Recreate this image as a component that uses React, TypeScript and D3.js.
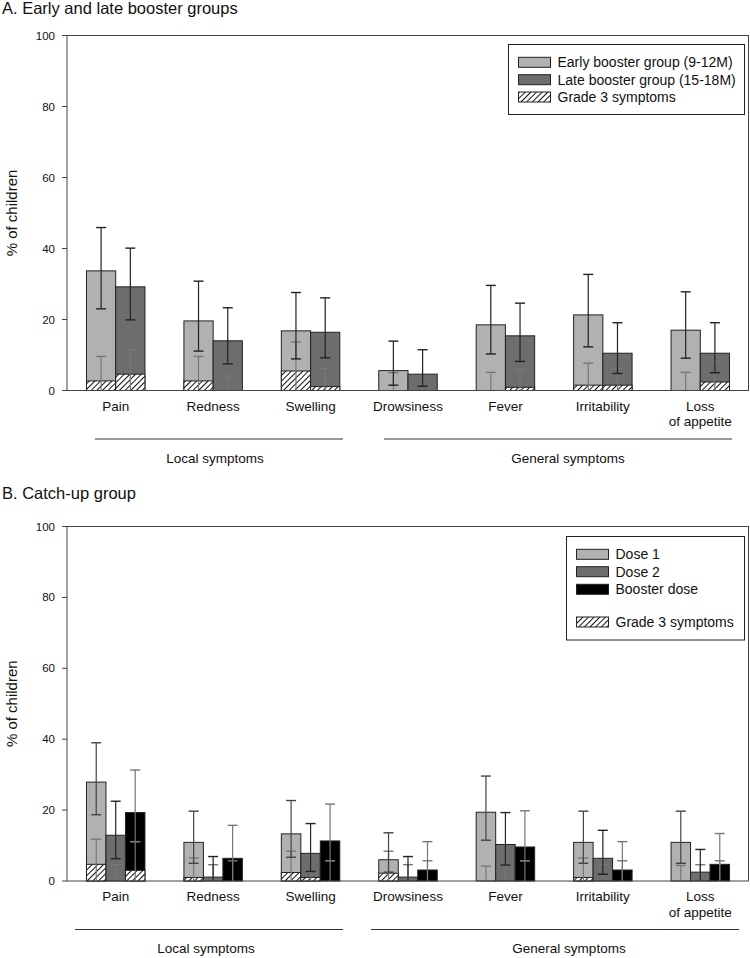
import { scaleLinear, scaleBand } from "d3";
import React from "react";

const categories = ["Pain", "Redness", "Swelling", "Drowsiness", "Fever", "Irritability", "Loss of appetite"];
const yTicks = [0, 20, 40, 60, 80, 100];

// Panel A
const earlyVal = [33.7, 19.6, 16.8, 5.6, 18.5, 21.3, 17.0];
const earlyLo = [23.0, 11.1, 8.9, 1.5, 10.3, 12.3, 9.1];
const earlyHi = [45.9, 30.8, 27.6, 13.9, 29.6, 32.7, 27.8];
const earlyG3 = [2.7, 2.7, 5.5, 0, 0, 1.5, 0];
const earlyG3Hi = [9.6, 9.6, 13.7, 5.0, 5.1, 7.7, 5.1];
const lateVal = [29.2, 14.0, 16.4, 4.6, 15.4, 10.5, 10.5];
const lateLo = [19.9, 7.5, 9.2, 1.2, 8.2, 4.8, 5.0];
const lateHi = [40.1, 23.3, 26.1, 11.5, 24.6, 19.1, 19.1];
const lateG3 = [4.6, 0, 1.1, 0, 0.9, 1.5, 2.4];
const lateG3Hi = [11.5, 4.1, 6.2, 4.1, 6.2, 6.2, 8.1];

// Panel B
const dose1Val = [27.9, 10.9, 13.3, 6.0, 19.4, 10.9, 10.9];
const dose1Lo = [18.7, 5.0, 6.7, 2.5, 11.5, 5.0, 5.0];
const dose1Hi = [39.0, 19.7, 22.7, 13.6, 29.6, 19.7, 19.7];
const dose1G3 = [4.7, 1.0, 2.4, 2.2, 0, 1.0, 0];
const dose1G3Hi = [11.8, 6.5, 8.4, 8.4, 4.2, 6.5, 4.4];
const dose2Val = [12.9, 1.1, 7.8, 1.1, 10.3, 6.4, 2.5];
const dose2Lo = [6.3, 0, 2.7, 0, 4.5, 1.9, 0];
const dose2Hi = [22.5, 6.9, 16.2, 6.9, 19.3, 14.3, 8.9];
const dose2G3 = [0, 0, 1.0, 0, 0, 0, 0];
const dose2G3Hi = [4.6, 4.6, 7.1, 4.6, 4.5, 4.6, 4.6];
const boosterVal = [19.3, 6.4, 11.3, 3.1, 9.6, 3.1, 4.7];
const boosterLo = [11.1, 0, 5.7, 0, 5.7, 0, 0];
const boosterHi = [31.3, 15.7, 21.7, 11.1, 19.8, 11.1, 13.4];
const boosterG3 = [3.0, 0, 0, 0, 0, 0, 0];
const boosterG3Hi = [11.1, 5.7, 5.7, 5.7, 5.7, 5.7, 5.7];

const seriesA = [
  { name: "Early booster group (9-12M)", fill: "#b1b1b1", err: "#222", val: earlyVal, lo: earlyLo, hi: earlyHi, g3: earlyG3, g3hi: earlyG3Hi },
  { name: "Late booster group (15-18M)", fill: "#6d6d6d", err: "#222", val: lateVal, lo: lateLo, hi: lateHi, g3: lateG3, g3hi: lateG3Hi },
];
const seriesB = [
  { name: "Dose 1", fill: "#b1b1b1", err: "#444", val: dose1Val, lo: dose1Lo, hi: dose1Hi, g3: dose1G3, g3hi: dose1G3Hi },
  { name: "Dose 2", fill: "#6d6d6d", err: "#222", val: dose2Val, lo: dose2Lo, hi: dose2Hi, g3: dose2G3, g3hi: dose2G3Hi },
  { name: "Booster dose", fill: "#000", err: "#777", val: boosterVal, lo: boosterLo, hi: boosterHi, g3: boosterG3, g3hi: boosterG3Hi },
];

const sans = "'Liberation Sans', Arial, sans-serif";
const left = 67;
const right = 749;

const Panel = ({ series, top, bottom, title, titleY, groups, legend }: any) => {
  const x = scaleBand().domain(categories).range([left, right]).paddingInner(0.4).paddingOuter(0.2);
  const inner = scaleBand().domain(series.map((s: any) => s.name)).range([0, x.bandwidth()]);
  const y = scaleLinear().domain([0, 100]).range([bottom, top]);
  const cap = 5;

  return (
    <g>
      <text x={2} y={titleY} fontFamily={sans} fontSize={16.5} fill="#111">{title}</text>
      <text transform={`translate(17,${(top + bottom) / 2}) rotate(-90)`} textAnchor="middle" fontFamily={sans} fontSize={15} fill="#111">% of children</text>
      {yTicks.map((t) => (
        <g key={t}>
          <line x1={left - 5} x2={left} y1={y(t)} y2={y(t)} stroke="#444" />
          <text x={55} y={y(t) + 4} textAnchor="end" fontFamily={sans} fontSize={11.5} fill="#111">{t}</text>
        </g>
      ))}
      {series.map((s: any) =>
        categories.map((c, i) => {
          const bx = (x(c) as number) + (inner(s.name) as number);
          const bw = inner.bandwidth();
          const cx = bx + bw / 2;
          return (
            <g key={s.name + c}>
              <rect x={bx} y={y(s.val[i])} width={bw} height={y(0) - y(s.val[i])} fill={s.fill} stroke="#222" strokeWidth={1} />
              {s.g3[i] > 0 && (
                <rect x={bx} y={y(s.g3[i])} width={bw} height={y(0) - y(s.g3[i])} fill="url(#hatch)" stroke="#222" strokeWidth={1} />
              )}
              <line x1={cx} x2={cx} y1={y(0)} y2={y(s.g3hi[i])} stroke="#777" strokeWidth={1.2} />
              <line x1={cx - cap} x2={cx + cap} y1={y(s.g3hi[i])} y2={y(s.g3hi[i])} stroke="#777" strokeWidth={1.4} />
              <line x1={cx} x2={cx} y1={y(s.lo[i])} y2={y(s.hi[i])} stroke={s.err} strokeWidth={1.2} />
              <line x1={cx - cap} x2={cx + cap} y1={y(s.hi[i])} y2={y(s.hi[i])} stroke={s.err} strokeWidth={1.4} />
              {s.lo[i] > 0 && (
                <line x1={cx - cap} x2={cx + cap} y1={y(s.lo[i])} y2={y(s.lo[i])} stroke={s.err} strokeWidth={1.4} />
              )}
            </g>
          );
        })
      )}
      <rect x={left} y={top} width={right - left - 0.5} height={bottom - top} fill="none" stroke="#444" />
      {categories.map((c) => {
        const cx = (x(c) as number) + x.bandwidth() / 2;
        const lines = c === "Loss of appetite" ? ["Loss", "of appetite"] : [c];
        return (
          <text key={c} textAnchor="middle" fontFamily={sans} fontSize={13.5} fill="#111">
            {lines.map((l, k) => (
              <tspan key={k} x={cx} y={bottom + 20 + k * 15.5}>{l}</tspan>
            ))}
          </text>
        );
      })}
      {groups.map((g: any) => (
        <g key={g.label}>
          <line x1={g.x1} x2={g.x2} y1={bottom + 48.5} y2={bottom + 48.5} stroke="#333" />
          <text x={g.lx} y={bottom + 72} textAnchor="middle" fontFamily={sans} fontSize={13.5} fill="#111">{g.label}</text>
        </g>
      ))}
      <rect x={legend.x} y={legend.y} width={744.5 - legend.x} height={legend.h} fill="#fff" stroke="#222" />
      {legend.rows.map((r: any) => (
        <g key={r.label}>
          <rect x={legend.x + 10} y={r.cy - 5} width={32} height={10} fill={r.fill} stroke="#222" />
          <text x={legend.x + 49} y={r.cy + 5} fontFamily={sans} fontSize={14} fill="#111">{r.label}</text>
        </g>
      ))}
    </g>
  );
};

export default function App() {
  return (
    <div style={{ position: "absolute", left: 0, top: 0 }}>
      <svg width={750} height={958} viewBox="0 0 750 958" style={{ display: "block", background: "#fff" }}>
        <defs>
          <pattern id="hatch" patternUnits="userSpaceOnUse" width={4} height={4} patternTransform="rotate(45)">
            <rect width={4} height={4} fill="#fff" />
            <line x1={0} y1={0} x2={0} y2={4} stroke="#111" strokeWidth={2} />
          </pattern>
        </defs>
        <Panel
          series={seriesA}
          top={35.5}
          bottom={390.5}
          title="A. Early and late booster groups"
          titleY={14}
          groups={[
            { label: "Local symptoms", x1: 95, x2: 343, lx: 215 },
            { label: "General symptoms", x1: 384, x2: 732, lx: 568 },
          ]}
          legend={{
            x: 508.5, y: 44.5, h: 70,
            rows: [
              { label: seriesA[0].name, fill: seriesA[0].fill, cy: 62.3 },
              { label: seriesA[1].name, fill: seriesA[1].fill, cy: 79.7 },
              { label: "Grade 3 symptoms", fill: "url(#hatch)", cy: 97 },
            ],
          }}
        />
        <Panel
          series={seriesB}
          top={526.5}
          bottom={881}
          title="B. Catch-up group"
          titleY={499}
          groups={[
            { label: "Local symptoms", x1: 75, x2: 343, lx: 206 },
            { label: "General symptoms", x1: 371, x2: 739, lx: 569 },
          ]}
          legend={{
            x: 566.5, y: 536.5, h: 103.5,
            rows: [
              { label: seriesB[0].name, fill: seriesB[0].fill, cy: 554.3 },
              { label: seriesB[1].name, fill: seriesB[1].fill, cy: 571.7 },
              { label: seriesB[2].name, fill: seriesB[2].fill, cy: 589.3 },
              { label: "Grade 3 symptoms", fill: "url(#hatch)", cy: 622 },
            ],
          }}
        />
      </svg>
    </div>
  );
}
